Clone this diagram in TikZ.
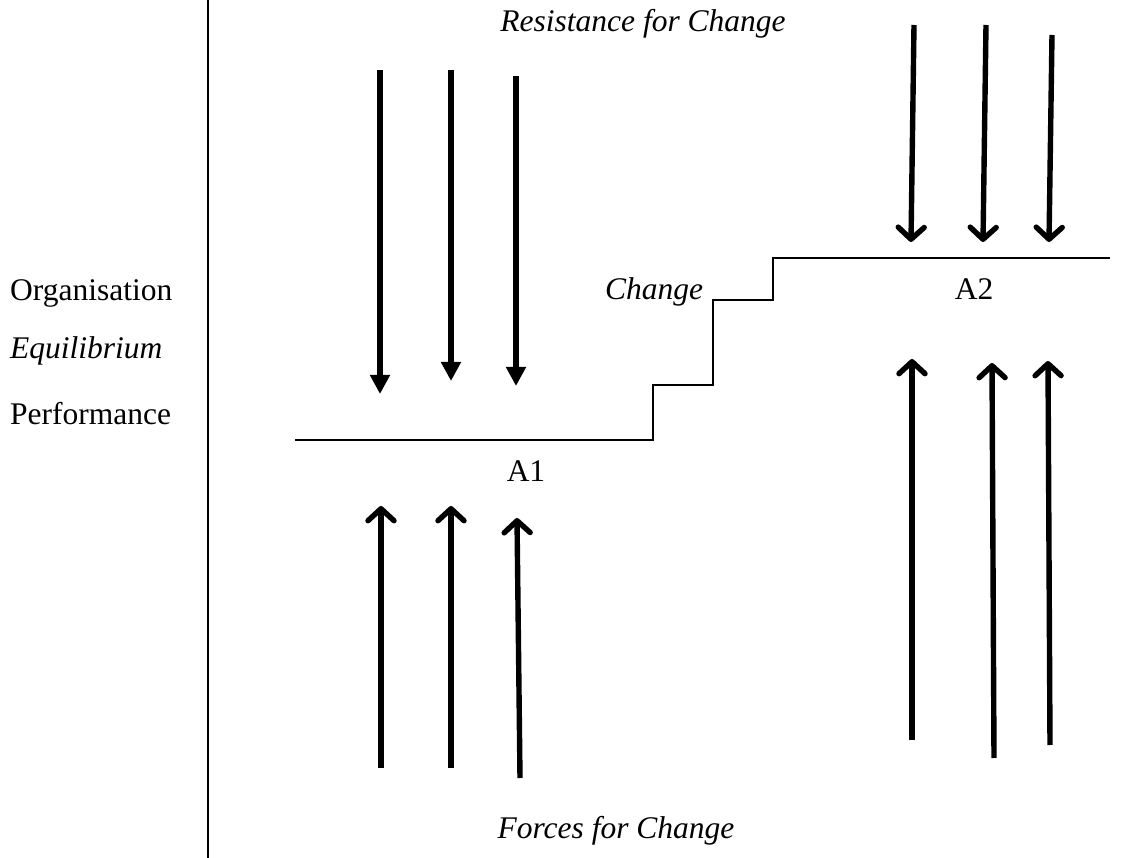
\documentclass[tikz,border=0pt]{standalone}
\usepackage{fontspec}
\setmainfont{Liberation Serif}
\usetikzlibrary{arrows.meta}
\begin{document}
\begin{tikzpicture}[x=1pt,y=-1pt,
  lbl/.style={inner sep=0pt,font=\fontsize{31.5}{36}\selectfont},
  ilbl/.style={lbl,font=\fontsize{31.5}{36}\selectfont\itshape},
  barb/.style={line width=5.4pt,-{Straight Barb[length=12pt,width=26pt,line cap=round,line join=round]}},
  tri/.style={line width=5.4pt,-{Triangle[length=19pt,width=19pt]}},
  stepline/.style={line width=2.6pt},
  axis/.style={line width=1.8pt}]
\useasboundingbox (0,0) rectangle (1133,858);
% axis
\coordinate (axTop) at (208,0);
\coordinate (axBot) at (208,858);
\draw[axis] (axTop) -- (axBot);
% labels
\node[ilbl,anchor=base] (res) at (643,32) {Resistance for Change};
\node[ilbl,anchor=base] (forces) at (616,838) {Forces for Change};
\node[lbl,anchor=base west] (org) at (10,301) {Organisation};
\node[ilbl,anchor=base west] (equ) at (10,359) {Equilibrium};
\node[lbl,anchor=base west] (perf) at (10,425) {Performance};
\node[ilbl,anchor=base] (chg) at (654,300) {Change};
\node[lbl,anchor=base] (a1) at (526,482) {A1};
\node[lbl,anchor=base] (a2) at (974,300) {A2};
% step line
\coordinate (s0) at (295,440);
\coordinate (s1) at (653,440);
\coordinate (s2) at (653,385);
\coordinate (s3) at (713,385);
\coordinate (s4) at (713,300);
\coordinate (s5) at (773,300);
\coordinate (s6) at (773,258);
\coordinate (s7) at (1110,258);
\draw[stepline] (s0) -- (s1) -- (s2) -- (s3) -- (s4) -- (s5) -- (s6) -- (s7);
% left resistance arrows
\coordinate (lr1a) at (380,70);  \coordinate (lr1b) at (380,394);
\coordinate (lr2a) at (451,70);  \coordinate (lr2b) at (451,381);
\coordinate (lr3a) at (516,76);  \coordinate (lr3b) at (516,386);
\draw[tri] (lr1a) -- (lr1b);
\draw[tri] (lr2a) -- (lr2b);
\draw[tri] (lr3a) -- (lr3b);
% right resistance arrows
\coordinate (rr1a) at (914,25);  \coordinate (rr1b) at (911,242);
\coordinate (rr2a) at (986,25);  \coordinate (rr2b) at (983,242);
\coordinate (rr3a) at (1052,35); \coordinate (rr3b) at (1049,242);
\draw[barb] (rr1a) -- (rr1b);
\draw[barb] (rr2a) -- (rr2b);
\draw[barb] (rr3a) -- (rr3b);
% left forces arrows
\coordinate (lf1a) at (381,768); \coordinate (lf1b) at (381,506);
\coordinate (lf2a) at (451,768); \coordinate (lf2b) at (451,506);
\coordinate (lf3a) at (520,778); \coordinate (lf3b) at (517,518);
\draw[barb] (lf1a) -- (lf1b);
\draw[barb] (lf2a) -- (lf2b);
\draw[barb] (lf3a) -- (lf3b);
% right forces arrows
\coordinate (rf1a) at (912,740); \coordinate (rf1b) at (912,359);
\coordinate (rf2a) at (994,758); \coordinate (rf2b) at (992,363);
\coordinate (rf3a) at (1050,745); \coordinate (rf3b) at (1048,361);
\draw[barb] (rf1a) -- (rf1b);
\draw[barb] (rf2a) -- (rf2b);
\draw[barb] (rf3a) -- (rf3b);
\end{tikzpicture}
\end{document}
